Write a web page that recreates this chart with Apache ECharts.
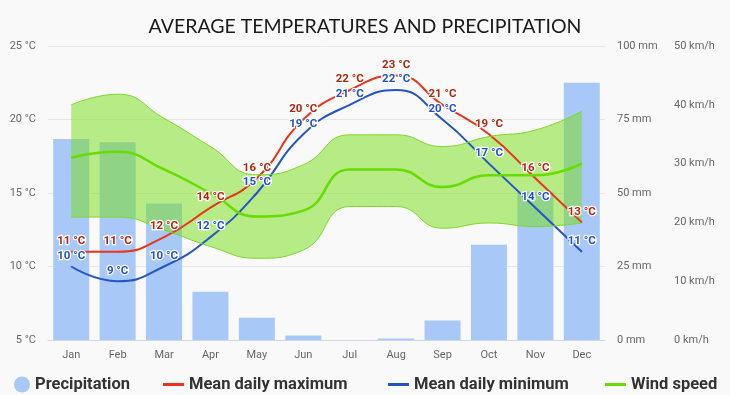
<!DOCTYPE html>
<html>
<head>
<meta charset="utf-8">
<script src="https://cdn.jsdelivr.net/npm/echarts@6/dist/echarts.min.js"></script>
<style>
html,body{margin:0;padding:0;background:#f9f9f9;}
#c{width:730px;height:395px;}
</style>
</head>
<body>
<div id="c"></div>
<script>
const months = ['Jan','Feb','Mar','Apr','May','Jun','Jul','Aug','Sep','Oct','Nov','Dec'];
const precipitation = [68.4, 67.3, 46.4, 16.4, 7.6, 1.5, 0, 0.5, 6.6, 32.4, 50.4, 87.5];
const tempMax = [11, 11, 12, 14, 16, 20, 22, 23, 21, 19, 16, 13];
const tempMin = [10, 9, 10, 12, 15, 19, 21, 22, 20, 17, 14, 11];
const windMean = [31, 32, 29, 25, 21, 22, 29, 29, 26, 28, 28, 30];
const windLow = [20.9, 20.9, 18.7, 15.9, 13.9, 15.3, 22.7, 22.7, 19.0, 19.9, 19.3, 19.9];
const windHigh = [40.0, 41.8, 37.7, 32.9, 28.1, 29.8, 34.9, 34.9, 32.9, 34.6, 35.7, 38.9];
const tempTicks = {min: 5, max: 25, interval: 5};
const precipTicks = {min: 0, max: 100, interval: 25};
const windTicks = {min: 0, max: 50, interval: 10};

const windSpan = windHigh.map((v, i) => +(v - windLow[i]).toFixed(2));
const axisFont = {color: '#666', fontSize: 11, fontFamily: 'Roboto'};
const legendText = {color: '#333', fontSize: 16.5, fontWeight: 'bold', fontFamily: 'Roboto'};
const labelBase = {show: true, position: 'top', distance: 4, fontSize: 11.5, fontWeight: 'bold',
  fontFamily: 'Roboto', textBorderColor: '#fff', textBorderWidth: 2.5, formatter: '{c} °C'};
const legendBase = {top: 376, padding: 0, textStyle: legendText, selectedMode: false};

const chart = echarts.init(document.getElementById('c'), null, {renderer: 'canvas'});
chart.setOption({
  backgroundColor: '#f9f9f9',
  animation: false,
  title: {text: 'AVERAGE TEMPERATURES AND PRECIPITATION', left: 'center', top: 12,
    textStyle: {fontSize: 19.5, fontWeight: 'normal', color: '#1a1a1a', fontFamily: 'Lato'}},
  grid: {left: 48, right: 125, top: 46, bottom: 55},
  legend: [
    Object.assign({data: [{name: 'Precipitation', icon: 'circle'}], left: 14, itemWidth: 16, itemHeight: 16}, legendBase),
    Object.assign({data: [{name: 'Mean daily maximum', icon: 'rect'}], left: 163, itemWidth: 21, itemHeight: 3}, legendBase),
    Object.assign({data: [{name: 'Mean daily minimum', icon: 'rect'}], left: 388, itemWidth: 21, itemHeight: 3}, legendBase),
    Object.assign({data: [{name: 'Wind speed', icon: 'rect'}], left: 605, itemWidth: 21, itemHeight: 3}, legendBase)
  ],
  xAxis: {type: 'category', data: months, boundaryGap: true,
    axisLine: {lineStyle: {color: '#ccd6eb'}}, axisTick: {show: false},
    axisLabel: Object.assign({margin: 10}, axisFont)},
  yAxis: [
    {type: 'value', min: tempTicks.min, max: tempTicks.max, interval: tempTicks.interval, position: 'left',
      axisLabel: Object.assign({formatter: '{value} °C', margin: 12}, axisFont),
      splitLine: {lineStyle: {color: '#e6e6e6'}}, axisLine: {show: false}, axisTick: {show: false}},
    {type: 'value', min: precipTicks.min, max: precipTicks.max, interval: precipTicks.interval, position: 'right',
      axisLabel: Object.assign({formatter: '{value} mm', margin: 12}, axisFont),
      splitLine: {show: false}, axisLine: {show: false}, axisTick: {show: false}},
    {type: 'value', min: windTicks.min, max: windTicks.max, interval: windTicks.interval, position: 'right', offset: 57,
      axisLabel: Object.assign({formatter: '{value} km/h', margin: 12}, axisFont),
      splitLine: {show: false}, axisLine: {show: false}, axisTick: {show: false}}
  ],
  series: [
    {name: 'Precipitation', type: 'bar', yAxisIndex: 1, data: precipitation, barWidth: 36,
      itemStyle: {color: '#a8c8f8'}},
    {name: 'Mean daily maximum', type: 'line', yAxisIndex: 0, data: tempMax, smooth: true,
      symbol: 'circle', symbolSize: 1, itemStyle: {color: '#e8351c'}, lineStyle: {width: 2, color: '#e8351c'},
      label: Object.assign({color: '#b3260e'}, labelBase)},
    {name: 'Mean daily minimum', type: 'line', yAxisIndex: 0, data: tempMin, smooth: true,
      symbol: 'circle', symbolSize: 1, itemStyle: {color: '#2455c8'}, lineStyle: {width: 2, color: '#2455c8'},
      label: Object.assign({color: '#2450d0'}, labelBase)},
    {name: 'windLow', type: 'line', yAxisIndex: 2, data: windLow, stack: 'wind', smooth: true,
      symbol: 'none', lineStyle: {width: 1, color: '#7fd82a'}, silent: true},
    {name: 'windBand', type: 'line', yAxisIndex: 2, data: windSpan, stack: 'wind', smooth: true,
      symbol: 'none', lineStyle: {width: 1, color: '#7fd82a'},
      areaStyle: {color: 'rgba(118,221,20,0.5)', opacity: 1}, silent: true},
    {name: 'Wind speed', type: 'line', yAxisIndex: 2, data: windMean, smooth: true,
      symbol: 'none', itemStyle: {color: '#66dd00'}, lineStyle: {width: 2.5, color: '#66dd00'}}
  ]
});
</script>
</body>
</html>
